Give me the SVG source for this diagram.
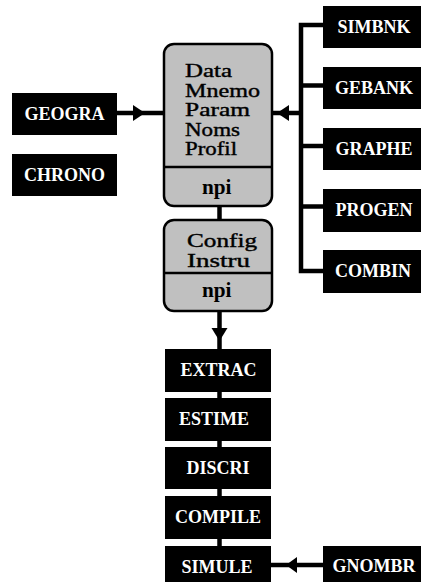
<svg xmlns="http://www.w3.org/2000/svg" width="421" height="582" viewBox="0 0 421 582">
  <style>
    .blk { fill: #000; }
    .lbl { fill: #fff; font-family: "Liberation Serif", "Times New Roman", serif; font-weight: bold; font-size: 18px; text-anchor: middle; }
    .panel { fill: #c0c0c0; stroke: #000; stroke-width: 2.5; }
    .sep { stroke: #000; stroke-width: 2.5; }
    .ptxt { fill: #000; font-family: "Liberation Serif", "Times New Roman", serif; font-size: 19px; stroke: #000; stroke-width: 0.4; }
    .npi { fill: #000; font-family: "Liberation Serif", "Times New Roman", serif; font-weight: bold; font-size: 22px; }
    .wire { stroke: #000; stroke-width: 4.5; fill: none; }
    .head { fill: #000; }
  </style>

  <g id="connectors">
    <!-- GEOGRA into the data panel -->
    <line class="wire" x1="117" y1="113" x2="164" y2="113"/>
    <polygon class="head" points="133,105 145,113 133,121"/>
    <!-- right-hand bus feeding the data panel -->
    <polyline class="wire" points="323,25 301,25 301,271 323,271"/>
    <line class="wire" x1="301" y1="85.5" x2="323" y2="85.5"/>
    <line class="wire" x1="301" y1="146" x2="323" y2="146"/>
    <line class="wire" x1="301" y1="206.5" x2="323" y2="206.5"/>
    <line class="wire" x1="301" y1="113" x2="272" y2="113"/>
    <polygon class="head" points="289,105 277,113 289,121"/>
    <!-- link between the two panels -->
    <line class="wire" x1="219.5" y1="206" x2="219.5" y2="220"/>
    <!-- config panel down to EXTRAC -->
    <line class="wire" x1="219.5" y1="311" x2="219.5" y2="349"/>
    <polygon class="head" points="211.5,328 227.5,328 219.5,341"/>
    <!-- short links down the processing column -->
    <line class="wire" x1="219.5" y1="392" x2="219.5" y2="398"/>
    <line class="wire" x1="219.5" y1="441" x2="219.5" y2="447"/>
    <line class="wire" x1="219.5" y1="489" x2="219.5" y2="496"/>
    <line class="wire" x1="219.5" y1="539" x2="219.5" y2="546"/>
    <!-- GNOMBR into SIMULE -->
    <line class="wire" x1="323" y1="565" x2="271" y2="565"/>
    <polygon class="head" points="297,557 286,565 297,573"/>
  </g>

  <g id="data-panel">
    <rect class="panel" x="164" y="44" width="108" height="162" rx="10"/>
    <line class="sep" x1="164" y1="167" x2="272" y2="167"/>
    <text class="ptxt" x="185" y="77" textLength="47" lengthAdjust="spacingAndGlyphs">Data</text>
    <text class="ptxt" x="185" y="96.5" textLength="75" lengthAdjust="spacingAndGlyphs">Mnemo</text>
    <text class="ptxt" x="185" y="116" textLength="65" lengthAdjust="spacingAndGlyphs">Param</text>
    <text class="ptxt" x="185" y="135.5" textLength="55" lengthAdjust="spacingAndGlyphs">Noms</text>
    <text class="ptxt" x="185" y="155" textLength="52" lengthAdjust="spacingAndGlyphs">Profil</text>
    <text class="npi" x="202" y="194" textLength="29.5" lengthAdjust="spacingAndGlyphs">npi</text>
  </g>

  <g id="config-panel">
    <rect class="panel" x="164" y="220" width="108" height="91" rx="10"/>
    <line class="sep" x1="164" y1="273" x2="272" y2="273"/>
    <text class="ptxt" x="187" y="247" textLength="70" lengthAdjust="spacingAndGlyphs">Config</text>
    <text class="ptxt" x="187" y="266.5" textLength="63" lengthAdjust="spacingAndGlyphs">Instru</text>
    <text class="npi" x="202" y="297" textLength="29.5" lengthAdjust="spacingAndGlyphs">npi</text>
  </g>

  <g id="geogra"><rect class="blk" x="12" y="93" width="105" height="42"/><text class="lbl" x="64.5" y="120">GEOGRA</text></g>
  <g id="chrono"><rect class="blk" x="12" y="154" width="105" height="42"/><text class="lbl" x="64.5" y="181">CHRONO</text></g>

  <g id="simbnk"><rect class="blk" x="323" y="6" width="98" height="42"/><text class="lbl" x="374" y="33">SIMBNK</text></g>
  <g id="gebank"><rect class="blk" x="323" y="67" width="98" height="42"/><text class="lbl" x="374" y="94">GEBANK</text></g>
  <g id="graphe"><rect class="blk" x="323" y="128" width="98" height="42"/><text class="lbl" x="374" y="155">GRAPHE</text></g>
  <g id="progen"><rect class="blk" x="323" y="189" width="98" height="43"/><text class="lbl" x="374" y="216">PROGEN</text></g>
  <g id="combin"><rect class="blk" x="323" y="250" width="98" height="43"/><text class="lbl" x="373" y="277">COMBIN</text></g>

  <g id="extrac"><rect class="blk" x="165" y="349" width="106" height="43"/><text class="lbl" x="218.5" y="376">EXTRAC</text></g>
  <g id="estime"><rect class="blk" x="165" y="398" width="106" height="43"/><text class="lbl" x="214" y="425">ESTIME</text></g>
  <g id="discri"><rect class="blk" x="165" y="447" width="106" height="42"/><text class="lbl" x="218" y="474">DISCRI</text></g>
  <g id="compile"><rect class="blk" x="165" y="496" width="106" height="43"/><text class="lbl" x="218" y="523">COMPILE</text></g>
  <g id="simule"><rect class="blk" x="165" y="546" width="106" height="40"/><text class="lbl" x="217" y="573">SIMULE</text></g>
  <g id="gnombr"><rect class="blk" x="323" y="546" width="98" height="40"/><text class="lbl" x="374" y="572">GNOMBR</text></g>
</svg>
